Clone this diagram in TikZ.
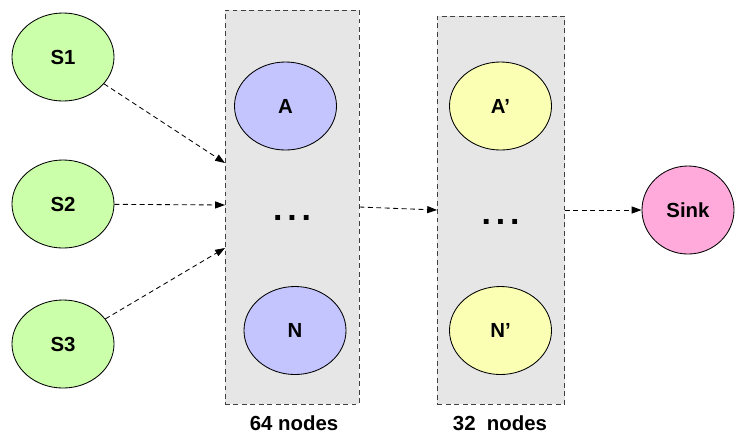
\documentclass[tikz,border=0pt]{standalone}
\usepackage{fontspec}
\setmainfont{Liberation Sans}
\usetikzlibrary{arrows.meta,shapes.geometric}
\definecolor{sgreen}{HTML}{CCFFAA}
\definecolor{ablue}{HTML}{C4C4FF}
\definecolor{byellow}{HTML}{FAFFB4}
\definecolor{spink}{HTML}{FFAADB}
\definecolor{grpgrey}{HTML}{E6E6E6}
\tikzset{
  >={Triangle[length=7pt,width=5pt]},
  el/.style={ellipse,draw,minimum width=2.55cm,minimum height=2.2cm,inner sep=0pt,font=\fontsize{14.5}{16}\selectfont\bfseries},
  grp/.style={draw=black!75,dash pattern=on 3.5pt off 2.5pt,fill=grpgrey,inner sep=0pt},
  lnk/.style={->,dash pattern=on 3.5pt off 2.5pt},
  lbl/.style={font=\fontsize{14.5}{16}\selectfont\bfseries},
  dts/.style={anchor=base,inner sep=0pt,font=\fontsize{24}{24}\selectfont\bfseries},
  every picture/.style={line width=0.6pt},
}
\begin{document}
\begin{tikzpicture}[x=0.025cm,y=-0.025cm]
\useasboundingbox (0,0) rectangle (736,437);
\node[grp,minimum width=3.35cm,minimum height=9.85cm] (G1) at (292,207){};
\node[grp,minimum width=3.175cm,minimum height=9.7cm] (G2) at (501,210){};
\node[el,fill=sgreen] (S1) at (63,57){S1};
\node[el,fill=sgreen] (S2) at (63,204){S2};
\node[el,fill=sgreen] (S3) at (63,344){S3};
\node[el,fill=ablue] (A) at (285.5,106){A};
\node[el,fill=ablue] (N) at (295,330.5){N};
\node[el,fill=byellow] (A2) at (500.5,106){A’};
\node[el,fill=byellow] (N2) at (500.5,330.5){N’};
\node[el,fill=spink,minimum width=2.3cm] (K) at (688,210){Sink};
\node[dts] (D1) at (292,220.5){.\kern3.5pt.\kern3.5pt.};
\node[dts] (D2) at (500.5,224){.\kern3.5pt.\kern3.5pt.};
\node[lbl] (L1) at (294,423){64 nodes};
\node[lbl] (L2) at (500,423){32\ \ nodes};
\coordinate (i1) at (225,163); \coordinate (i2) at (225,205); \coordinate (i3) at (225,248);
\draw[lnk] (S1)--(i1); \draw[lnk] (S2)--(i2); \draw[lnk] (S3)--(i3);
\draw[lnk] (G1.east)--(G2.west); \draw[lnk] (G2.east)--(K);
\end{tikzpicture}
\end{document}
